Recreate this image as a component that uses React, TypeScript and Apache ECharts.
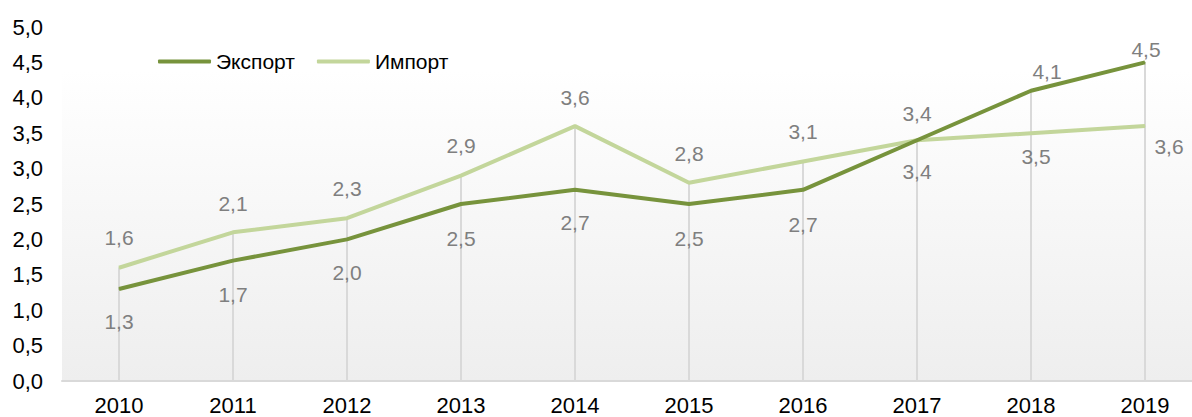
import React, { useEffect, useRef } from "react";
import * as echarts from "echarts";

const years = ["2010", "2011", "2012", "2013", "2014", "2015", "2016", "2017", "2018", "2019"];
const exportValues = [1.3, 1.7, 2.0, 2.5, 2.7, 2.5, 2.7, 3.4, 4.1, 4.5];
const importValues = [1.6, 2.1, 2.3, 2.9, 3.6, 2.8, 3.1, 3.4, 3.5, 3.6];
const seriesNames = ["Экспорт", "Импорт"];
const yMin = 0;
const yMax = 5;
const yStep = 0.5;

// label offsets (dx, dy) relative to each point, in pixels
const exportLabelOffsets = [
  [0, 33], [0, 34], [0, 33], [0, 34], [0, 33], [0, 34], [0, 35], [0, -27], [16, -19], [1, -13],
];
const importLabelOffsets = [
  [0, -30], [0, -29], [0, -30], [0, -30], [0, -29], [0, -29], [0, -30], [0, 31], [5, 23], [24, 20],
];

const FONT = "'Liberation Sans', Arial, sans-serif";
const fmt = (v: number) => v.toFixed(1).replace(".", ",");

export default function App() {
  const ref = useRef<HTMLDivElement>(null);
  useEffect(() => {
    if (!ref.current) return;
    const chart = echarts.init(ref.current, null, { renderer: "svg" });

    const labelled = (vals: number[], offs: number[][]) =>
      vals.map((v, i) => ({
        value: v,
        label: {
          show: true,
          position: "inside",
          offset: offs[i],
          formatter: () => fmt(v),
          color: "#7f7f7f",
          fontSize: 21,
          fontFamily: FONT,
        },
      }));

    const dropData = years.map((_, i) => [i, Math.max(exportValues[i], importValues[i])]);

    chart.setOption({
      animation: false,
      backgroundColor: "#ffffff",
      grid: {
        left: 62,
        width: 1140,
        top: 27,
        bottom: 36,
        outerBoundsMode: "none",
        containLabel: false,
        show: true,
        borderWidth: 0,
        backgroundColor: new echarts.graphic.LinearGradient(0, 0, 0, 1, [
          { offset: 0, color: "#ffffff" },
          { offset: 0.12, color: "#ffffff" },
          { offset: 1, color: "#eeeeee" },
        ]),
      },
      legend: {
        left: 153,
        top: 46,
        icon: "roundRect",
        itemWidth: 53,
        itemHeight: 4,
        itemGap: 22,
        data: seriesNames,
        textStyle: { fontSize: 21, fontFamily: FONT, color: "#000000" },
      },
      xAxis: {
        type: "category",
        data: years,
        boundaryGap: true,
        axisLine: { show: true, lineStyle: { color: "#d9d9d9", width: 2 } },
        axisTick: { show: false },
        splitLine: { show: false },
        axisLabel: { fontSize: 22, fontFamily: FONT, color: "#000000", margin: 13 },
      },
      yAxis: {
        type: "value",
        min: yMin,
        max: yMax,
        interval: yStep,
        axisLine: { show: false },
        axisTick: { show: false },
        splitLine: { show: false },
        axisLabel: {
          fontSize: 22,
          fontFamily: FONT,
          color: "#000000",
          margin: 19,
          formatter: (v: number) => fmt(v),
        },
      },
      series: [
        {
          type: "custom",
          name: "drop",
          silent: true,
          z: 1,
          data: dropData,
          renderItem: (params: any, api: any) => {
            const i = api.value(0);
            const v = api.value(1);
            const p0 = api.coord([i, 0]);
            const p1 = api.coord([i, v]);
            return {
              type: "line",
              shape: { x1: p0[0], y1: p0[1], x2: p1[0], y2: p1[1] },
              style: { stroke: "#d9d9d9", lineWidth: 2 },
            };
          },
        },
        {
          type: "line",
          name: seriesNames[0],
          z: 3,
          data: labelled(exportValues, exportLabelOffsets),
          symbol: "circle",
          symbolSize: 1,
          showSymbol: true,
          itemStyle: { color: "#77933c" },
          lineStyle: { color: "#77933c", width: 4 },
        },
        {
          type: "line",
          name: seriesNames[1],
          z: 2,
          data: labelled(importValues, importLabelOffsets),
          symbol: "circle",
          symbolSize: 1,
          showSymbol: true,
          itemStyle: { color: "#c3d69b" },
          lineStyle: { color: "#c3d69b", width: 4 },
        },
      ],
    });
    return () => chart.dispose();
  }, []);
  return (
    <div
      ref={ref}
      style={{ position: "fixed", left: 0, top: 0, width: 1192, height: 417 }}
    />
  );
}
